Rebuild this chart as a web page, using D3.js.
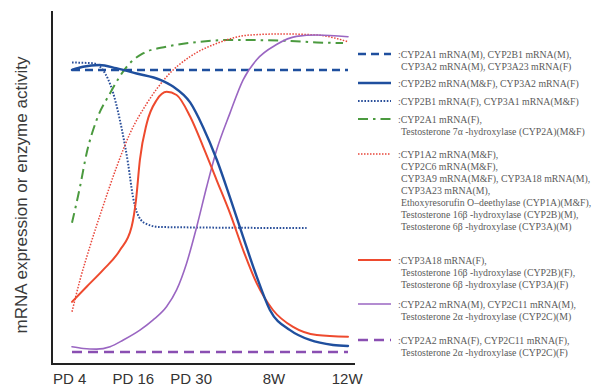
<!DOCTYPE html>
<html>
<head>
<meta charset="utf-8">
<script src="https://cdn.jsdelivr.net/npm/d3@7"></script>
<style>
  html, body { margin: 0; padding: 0; background: #fff; }
  svg { display: block; }
</style>
</head>
<body>
<svg id="chart" width="604" height="386"></svg>
<script>
// Developmental time points on the x axis (relative age scale 0-100)
const tickLabels = ["PD 4", "PD 16", "PD 30", "8W", "12W"];
const tickAt = [-1, 22, 43, 73, 99.5];

// Relative expression / activity (0-100) sampled along the age scale: [age, level]
const cyp2a1M = [[0, 83.3], [100, 83.3]];
const cyp2b2 = [[0, 83.3], [4, 84.2], [10, 84.7], [16, 83.8], [23.4, 82.3], [32, 80.5], [36.6, 78.6],
  [42.8, 74.1], [47.5, 67.1], [52.5, 57.8], [57.2, 47.3], [62, 36], [67, 24.6], [71.7, 15.3],
  [79, 9.6], [86.2, 6.8], [94.6, 5.4], [100, 5.1]];
const cyp2b1F = [[0, 85.4], [7.7, 85.2], [11.2, 83.3], [14.9, 76.8], [18.1, 66.3], [20.3, 56.9],
  [22.1, 47.3], [23.6, 42.8], [26.4, 39.9], [31.9, 38.8], [85, 38.5]];
const cyp2a1F = [[0, 40], [2.9, 50.2], [5.3, 59.7], [8.9, 69.1], [13.8, 76.7], [19.8, 84.2],
  [25.7, 88], [34.3, 89.9], [46.4, 91.3], [58.3, 91.8], [76.4, 91.6], [88.7, 91.1], [98.2, 90.9]];
const cyp1a2 = [[0, 14.8], [2.9, 23.8], [6.5, 33.3], [11.2, 44.6], [16.2, 55.9], [21, 65.3],
  [27.1, 73.8], [34.3, 81.4], [42.8, 87.1], [52.4, 90.8], [64.5, 93.2], [76.4, 93.5],
  [88.7, 93.2], [100, 91.3]];
const cyp3a18F = [[0, 17.6], [5.3, 21.9], [11.2, 26.6], [17.4, 32.3], [21.6, 38.9], [23.2, 46.5],
  [24.6, 57.8], [27.1, 68.2], [30.7, 74.8], [34.3, 77.1], [37.9, 76.2], [42.8, 70.1],
  [47.5, 61.6], [52.4, 52.1], [57.2, 42.8], [62, 32.3], [66.9, 22.9], [72.8, 15.3],
  [80.1, 10.5], [88.7, 8.2], [100, 7.7]];
const cyp2c11M = [[0, 4.9], [4.1, 4.4], [8.9, 4.2], [13.8, 4.9], [18.6, 6.8], [24.6, 9.6],
  [29.4, 12.5], [34.3, 16.3], [37.9, 21], [41.5, 28.5], [45.2, 38.9], [48.8, 50.2],
  [52.4, 60.6], [57.2, 71], [62, 80.5], [66.9, 86.2], [74.1, 90.5], [81.3, 92.8],
  [88.7, 93.2], [100, 92.7]];
const cyp2c11F = [[0, 3.4], [100, 3.4]];

// Legend text for each curve
const legendText = [
  [":CYP2A1 mRNA(M), CYP2B1 mRNA(M),", "CYP3A2 mRNA(M), CYP3A23 mRNA(F)"],
  [":CYP2B2 mRNA(M&F), CYP3A2 mRNA(F)"],
  [":CYP2B1 mRNA(F), CYP3A1 mRNA(M&F)"],
  [":CYP2A1 mRNA(F),", "Testosterone 7α -hydroxylase (CYP2A)(M&F)"],
  [":CYP1A2 mRNA(M&F),", "CYP2C6 mRNA(M&F),", "CYP3A9 mRNA(M&F), CYP3A18 mRNA(M),",
   "CYP3A23 mRNA(M),", "Ethoxyresorufin O–deethylase (CYP1A)(M&F),",
   "Testosterone 16β -hydroxylase (CYP2B)(M),", "Testosterone 6β -hydroxylase (CYP3A)(M)"],
  [":CYP3A18 mRNA(F),", "Testosterone 16β -hydroxylase (CYP2B)(F),",
   "Testosterone 6β -hydroxylase (CYP3A)(F)"],
  [":CYP2A2 mRNA(M), CYP2C11 mRNA(M),", "Testosterone 2α -hydroxylase (CYP2C)(M)"],
  [":CYP2A2 mRNA(F), CYP2C11 mRNA(F),", "Testosterone 2α -hydroxylase (CYP2C)(F)"]
];

const seriesData = [cyp2a1M, cyp2b2, cyp2b1F, cyp2a1F, cyp1a2, cyp3a18F, cyp2c11M, cyp2c11F];

// Line styles, one per series
const styles = [
  { color: "#1f4f9e", width: 2.4, dash: "8,5", cap: "butt" },
  { color: "#1f4f9e", width: 2.4, dash: null, cap: "round" },
  { color: "#2a4f9a", width: 2, dash: "1.6,1.6", cap: "butt" },
  { color: "#4b9a3f", width: 2, dash: "10,5,2.5,5", cap: "butt" },
  { color: "#e8453a", width: 1.5, dash: "1.5,1.5", cap: "butt" },
  { color: "#ee4a2e", width: 2, dash: null, cap: "round" },
  { color: "#9a66c2", width: 1.6, dash: null, cap: "round" },
  { color: "#8a4fb2", width: 2.4, dash: "10,6", cap: "butt" }
];

const svg = d3.select("#chart");

const x = d3.scaleLinear().domain([0, 100]).range([72, 348]);
const y = d3.scaleLinear().domain([0, 100]).range([364, 11]);

// Axis frame: left and bottom lines only
svg.append("line").attr("x1", 52).attr("x2", 52).attr("y1", 11).attr("y2", 364)
  .attr("stroke", "#222").attr("stroke-width", 2);
svg.append("line").attr("x1", 51).attr("x2", 355).attr("y1", 364).attr("y2", 364)
  .attr("stroke", "#222").attr("stroke-width", 2);

// Bottom tick labels through a d3 axis
const xAxis = d3.axisBottom(x)
  .tickValues(tickAt)
  .tickFormat((d, i) => tickLabels[i])
  .tickSize(0)
  .tickPadding(9);
const gx = svg.append("g").attr("transform", "translate(0,364)").call(xAxis);
gx.select(".domain").remove();
gx.selectAll("text")
  .attr("font-family", "Liberation Sans, Arial, sans-serif")
  .attr("font-size", 15)
  .attr("fill", "#333");

// Y axis title
svg.append("text")
  .attr("transform", "translate(27,195) rotate(-90)")
  .attr("text-anchor", "middle")
  .attr("font-family", "Liberation Sans, Arial, sans-serif")
  .attr("font-size", 17)
  .attr("fill", "#3a3a3a")
  .text("mRNA expression or enzyme activity");

// Curves
const line = d3.line()
  .x(d => x(d[0]))
  .y(d => y(d[1]))
  .curve(d3.curveMonotoneX);

const drawOrder = [7, 0, 2, 3, 4, 6, 5, 1];
drawOrder.forEach(i => {
  const s = styles[i];
  svg.append("path")
    .datum(seriesData[i])
    .attr("d", line)
    .attr("fill", "none")
    .attr("stroke", s.color)
    .attr("stroke-width", s.width)
    .attr("stroke-linecap", s.cap)
    .attr("stroke-dasharray", s.dash);
});

// Legend
const lineH = 12;
const gapBefore = [0, 5, 6, 6, 11, 22, 8, 12];
const legend = svg.append("g");
let cy = 54;
legendText.forEach((lines, i) => {
  cy += gapBefore[i];
  const s = styles[i];
  legend.append("line")
    .attr("x1", 358).attr("x2", 391)
    .attr("y1", cy).attr("y2", cy)
    .attr("stroke", s.color)
    .attr("stroke-width", s.width)
    .attr("stroke-dasharray", s.dash);
  lines.forEach((t, j) => {
    legend.append("text")
      .attr("x", j === 0 ? 398 : 401)
      .attr("y", cy + j * lineH + 3.5)
      .attr("font-family", "Liberation Serif, Times New Roman, serif")
      .attr("font-size", 9.8)
      .attr("fill", "#5a5a5a")
      .text(t);
  });
  cy += lines.length * lineH;
});
</script>
</body>
</html>
